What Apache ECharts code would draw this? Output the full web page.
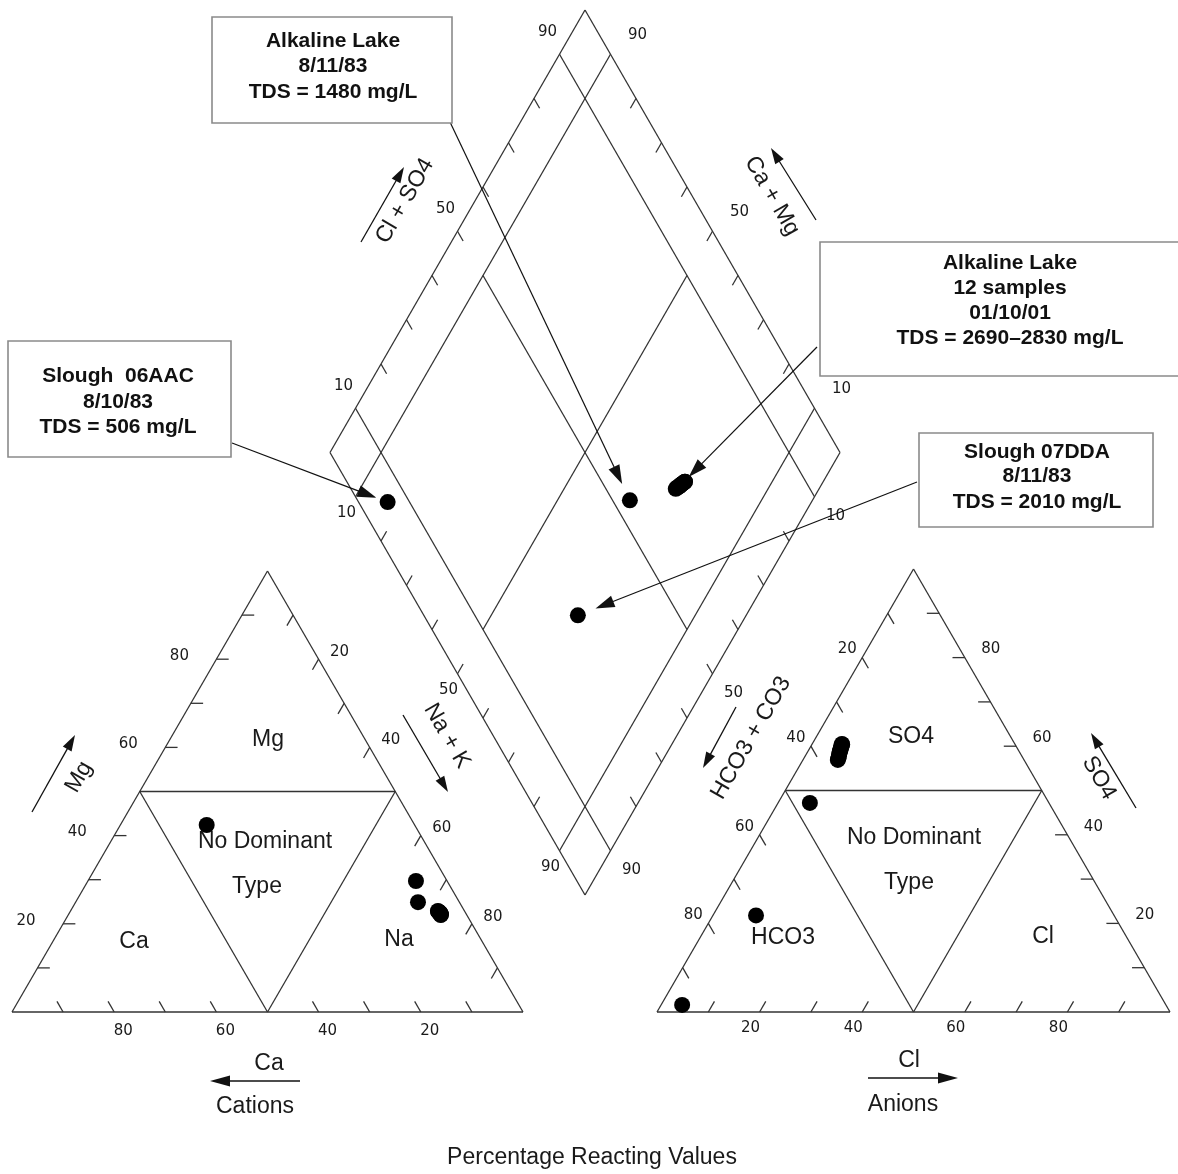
<!DOCTYPE html>
<html>
<head>
<meta charset="utf-8">
<title>Piper diagram</title>
<script src="https://cdn.jsdelivr.net/npm/echarts@6/dist/echarts.min.js"></script>
<style>
  html, body { margin: 0; padding: 0; background: #fff; }
  #chart { width: 1178px; height: 1174px; }
</style>
</head>
<body>
<div id="chart"></div>
<script>
// samples, percent of reacting values
// Ca = 100 - Mg - NaK, HCO3 = 100 - SO4 - Cl
const sampleNames = [
  'Slough 06AAC', 'Slough 07DDA', 'Alkaline Lake 8/11/83',
  'AL 01', 'AL 02', 'AL 03', 'AL 04', 'AL 05', 'AL 06',
  'AL 07', 'AL 08', 'AL 09', 'AL 10', 'AL 11', 'AL 12'
];
const mgPct  = [42.4, 24.9, 29.7, 22.5, 22.9, 22.3, 22.7, 22.1, 22.5, 22.8, 22.2, 22.4, 22.6, 22.0, 22.5];
const naKPct = [16.9, 67.0, 64.2, 72.4, 71.9, 72.7, 72.1, 72.9, 72.5, 72.0, 72.8, 72.6, 72.3, 72.9, 72.4];
const so4Pct = [1.6, 21.8, 47.2, 58.6, 56.9, 59.8, 57.7, 60.5, 59.1, 57.3, 60.1, 59.4, 58.2, 60.4, 58.9];
const clPct  = [4.1, 8.4, 6.2, 6.3, 6.8, 6.0, 6.6, 5.8, 6.2, 6.7, 5.9, 6.1, 6.4, 5.9, 6.2];
const clusterIdx = [3, 4, 5, 6, 7, 8, 9, 10, 11, 12, 13, 14];

// tick positions and tick labels
const tickSteps = [10, 20, 30, 40, 60, 70, 80, 90];
const diamondTickSteps = [20, 30, 40, 50, 60, 70, 80];
const triangleLabels = [20, 40, 60, 80];
const diamondLabels = [10, 50, 90];

// geometry (axis units = pixels)
const CAT = { x: 12, y: 1012, w: 511, h: 441 };
const AN = { x: 657, y: 1012, w: 513, h: 443 };
const DIA = { x: 330, y: 452.5, w: 255, h: 442.5 };

// r = % of right corner, t = % of top corner
function tri(T, r, t) {
  return [T.x + (r + t / 2) / 100 * T.w, T.y - t / 100 * T.h];
}
// a = Cl + SO4, b = Na + K
function dia(a, b) {
  return [DIA.x + (a + b) / 100 * DIA.w, DIA.y + (b - a) / 100 * DIA.h];
}

const catPts = sampleNames.map((n, i) => tri(CAT, naKPct[i], mgPct[i]));
const anPts = sampleNames.map((n, i) => tri(AN, clPct[i], so4Pct[i]));
const diaPts = sampleNames.map((n, i) => dia(so4Pct[i] + clPct[i], naKPct[i]));

// ---- frame lines
const segments = [];
function seg(p, q) { segments.push([p[0], p[1], q[0], q[1]]); }

[CAT, AN].forEach(T => {
  seg(tri(T, 0, 0), tri(T, 100, 0));
  seg(tri(T, 100, 0), tri(T, 0, 100));
  seg(tri(T, 0, 100), tri(T, 0, 0));
  seg(tri(T, 0, 50), tri(T, 50, 50));
  seg(tri(T, 0, 50), tri(T, 50, 0));
  seg(tri(T, 50, 0), tri(T, 50, 50));
});
const d = 2.4;
tickSteps.forEach(k => {
  // cations
  seg(tri(CAT, k, 0), tri(CAT, k - d, d));
  seg(tri(CAT, 0, k), tri(CAT, d, k));
  seg(tri(CAT, k, 100 - k), tri(CAT, k, 100 - k - d));
  // anions
  seg(tri(AN, k, 0), tri(AN, k, d));
  seg(tri(AN, 0, k), tri(AN, d, k - d));
  seg(tri(AN, 100 - k, k), tri(AN, 100 - k - d, k));
});

seg(dia(0, 0), dia(100, 0));
seg(dia(100, 0), dia(100, 100));
seg(dia(100, 100), dia(0, 100));
seg(dia(0, 100), dia(0, 0));
[10, 90].forEach(v => {
  seg(dia(v, 0), dia(v, 100));
  seg(dia(0, v), dia(100, v));
});
seg(dia(50, 10), dia(50, 90));
seg(dia(10, 50), dia(90, 50));
const dd = 2.2;
diamondTickSteps.forEach(k => {
  seg(dia(k, 0), dia(k, dd));
  seg(dia(100, k), dia(100 - dd, k));
  seg(dia(0, k), dia(dd, k));
  seg(dia(k, 100), dia(k, 100 - dd));
});

// ---- texts
const FONT_TICK = '15px "DejaVu Sans"';
const FONT_LABEL = '23px "Liberation Sans"';
const FONT_BOX = 'bold 21px "Liberation Sans"';

const texts = [];
function txt(text, p, dx, dy, font, rot) {
  texts.push({ text: String(text), x: p[0] + dx, y: p[1] + dy, font: font, rot: rot || 0 });
}
triangleLabels.forEach(k => {
  txt(k, tri(CAT, 0, k), -37, -3, FONT_TICK);
  txt(k, tri(CAT, k, 100 - k), 21, -7, FONT_TICK);
  txt(k, tri(CAT, 100 - k, 0), 9, 19, FONT_TICK);
  txt(k, tri(AN, 0, 100 - k), -15, -8, FONT_TICK);
  txt(k, tri(AN, 100 - k, k), 26, -8, FONT_TICK);
  txt(k, tri(AN, k, 0), -9, 16, FONT_TICK);
});
diamondLabels.forEach(v => {
  txt(v, dia(v, 0), -12, -22, FONT_TICK);
  txt(v, dia(100, 100 - v), 27, -19, FONT_TICK);
  txt(v, dia(0, v), -9, 16, FONT_TICK);
  txt(v, dia(100 - v, 100), 21, 19, FONT_TICK);
});

const labelLayout = [
  ['Mg', 268, 740, 0], ['No Dominant', 265, 842, 0], ['Type', 257, 887, 0],
  ['Ca', 134, 942, 0], ['Na', 399, 940, 0],
  ['SO4', 911, 737, 0], ['No Dominant', 914, 838, 0], ['Type', 909, 883, 0],
  ['HCO3', 783, 938, 0], ['Cl', 1043, 937, 0],
  ['Mg', 79, 777, 60], ['Na + K', 447, 736, -60],
  ['Cl + SO4', 405, 201, 60], ['Ca + Mg', 772, 196, -60],
  ['HCO3 + CO3', 751, 738, 60], ['SO4', 1099, 778, -60],
  ['Ca', 269, 1064, 0], ['Cations', 255, 1107, 0],
  ['Cl', 909, 1061, 0], ['Anions', 903, 1105, 0],
  ['Percentage Reacting Values', 592, 1158, 0]
];
labelLayout.forEach(l => txt(l[0], [l[1], l[2]], 0, 0, FONT_LABEL, l[3]));

// ---- annotation boxes
const boxes = [
  { x0: 212, y0: 17, x1: 452, y1: 123, cx: 333, ly: [41, 66, 92],
    lines: ['Alkaline Lake', '8/11/83', 'TDS = 1480 mg/L'] },
  { x0: 8, y0: 341, x1: 231, y1: 457, cx: 118, ly: [376, 402, 427],
    lines: ['Slough  06AAC', '8/10/83', 'TDS = 506 mg/L'] },
  { x0: 820, y0: 242, x1: 1184, y1: 376, cx: 1010, ly: [263, 288, 313, 338],
    lines: ['Alkaline Lake', '12 samples', '01/10/01', 'TDS = 2690\u20132830 mg/L'] },
  { x0: 919, y0: 433, x1: 1153, y1: 527, cx: 1037, ly: [452, 476, 502],
    lines: ['Slough 07DDA', '8/11/83', 'TDS = 2010 mg/L'] }
];

// ---- arrows (leaders point at the diamond samples)
function towards(from, target, gap) {
  const dx = target[0] - from[0], dy = target[1] - from[1];
  const len = Math.hypot(dx, dy);
  return [target[0] - dx / len * gap, target[1] - dy / len * gap];
}
const clusterMean = [0, 1].map(j =>
  clusterIdx.reduce((s, i) => s + diaPts[i][j], 0) / clusterIdx.length);

const arrows = [
  { from: [450, 122], to: towards([450, 122], diaPts[2], 18), head: 19, half: 6, width: 1.2 },
  { from: [232, 443], to: towards([232, 443], diaPts[0], 12), head: 19, half: 6, width: 1.2 },
  { from: [817, 347], to: towards([817, 347], clusterMean, 11), head: 19, half: 6, width: 1.2 },
  { from: [917, 482], to: towards([917, 482], diaPts[1], 19), head: 19, half: 6, width: 1.2 },
  // axis direction arrows
  { from: [32, 812], to: [75, 735], head: 16, half: 5, width: 1.3 },
  { from: [403, 715], to: [448, 792], head: 16, half: 5, width: 1.3 },
  { from: [361, 242], to: [404, 167], head: 16, half: 5, width: 1.3 },
  { from: [816, 220], to: [771, 148], head: 16, half: 5, width: 1.3 },
  { from: [736, 707], to: [703, 768], head: 16, half: 5, width: 1.3 },
  { from: [1136, 808], to: [1091, 733], head: 16, half: 5, width: 1.3 },
  { from: [300, 1081], to: [210, 1081], head: 20, half: 5.5, width: 1.3 },
  { from: [868, 1078], to: [958, 1078], head: 20, half: 5.5, width: 1.3 }
];

// ---- renderers
function renderSegment(params, api) {
  const p = api.coord([api.value(0), api.value(1)]);
  const q = api.coord([api.value(2), api.value(3)]);
  return {
    type: 'line',
    shape: { x1: p[0], y1: p[1], x2: q[0], y2: q[1] },
    style: { stroke: '#333', lineWidth: 1.3 }
  };
}

function renderText(params, api) {
  const t = texts[api.value(2)];
  const p = api.coord([api.value(0), api.value(1)]);
  return {
    type: 'text',
    x: p[0], y: p[1],
    rotation: t.rot * Math.PI / 180,
    style: { text: t.text, font: t.font, fill: '#1a1a1a', align: 'center', verticalAlign: 'middle' }
  };
}

function renderBox(params, api) {
  const b = boxes[api.value(4)];
  const p = api.coord([api.value(0), api.value(1)]);
  const q = api.coord([api.value(2), api.value(3)]);
  const children = [{
    type: 'rect',
    shape: { x: p[0], y: p[1], width: q[0] - p[0], height: q[1] - p[1] },
    style: { fill: '#fff', stroke: '#8a8a8a', lineWidth: 1.6 }
  }];
  b.lines.forEach((line, j) => {
    const c = api.coord([b.cx, b.ly[j]]);
    children.push({
      type: 'text', x: c[0], y: c[1],
      style: { text: line, font: FONT_BOX, fill: '#111', align: 'center', verticalAlign: 'middle' }
    });
  });
  return { type: 'group', children: children };
}

function renderArrow(params, api) {
  const a = arrows[api.value(4)];
  const p = api.coord([api.value(0), api.value(1)]);
  const q = api.coord([api.value(2), api.value(3)]);
  const dx = q[0] - p[0], dy = q[1] - p[1];
  const len = Math.hypot(dx, dy);
  const ux = dx / len, uy = dy / len;
  const bx = q[0] - ux * a.head, by = q[1] - uy * a.head;
  return {
    type: 'group',
    children: [
      { type: 'line', shape: { x1: p[0], y1: p[1], x2: bx + ux * 3, y2: by + uy * 3 },
        style: { stroke: '#111', lineWidth: a.width } },
      { type: 'polygon',
        shape: { points: [[q[0], q[1]], [bx - uy * a.half, by + ux * a.half], [bx + uy * a.half, by - ux * a.half]] },
        style: { fill: '#111' } }
    ]
  };
}

const dotStyle = { color: '#000', opacity: 1 };

const chart = echarts.init(document.getElementById('chart'));
chart.setOption({
  animation: false,
  backgroundColor: '#fff',
  grid: { left: 0, right: 0, top: 0, bottom: 0 },
  xAxis: { type: 'value', min: 0, max: 1178, show: false },
  yAxis: { type: 'value', min: 0, max: 1174, inverse: true, show: false },
  tooltip: { show: false },
  series: [
    { type: 'custom', name: 'frame', silent: true, z: 1,
      data: segments, renderItem: renderSegment },
    { type: 'custom', name: 'texts', silent: true, z: 2,
      data: texts.map((t, i) => [t.x, t.y, i]), renderItem: renderText },
    { type: 'custom', name: 'leaders', silent: true, z: 4,
      data: arrows.map((a, i) => [a.from[0], a.from[1], a.to[0], a.to[1], i]), renderItem: renderArrow },
    { type: 'custom', name: 'notes', silent: true, z: 5,
      data: boxes.map((b, i) => [b.x0, b.y0, b.x1, b.y1, i]), renderItem: renderBox },
    { type: 'scatter', name: 'Cations', silent: true, z: 3, symbolSize: 16,
      itemStyle: dotStyle, data: catPts },
    { type: 'scatter', name: 'Anions', silent: true, z: 3, symbolSize: 16,
      itemStyle: dotStyle, data: anPts },
    { type: 'scatter', name: 'Diamond', silent: true, z: 3, symbolSize: 16,
      itemStyle: dotStyle, data: diaPts }
  ]
});
</script>
</body>
</html>
